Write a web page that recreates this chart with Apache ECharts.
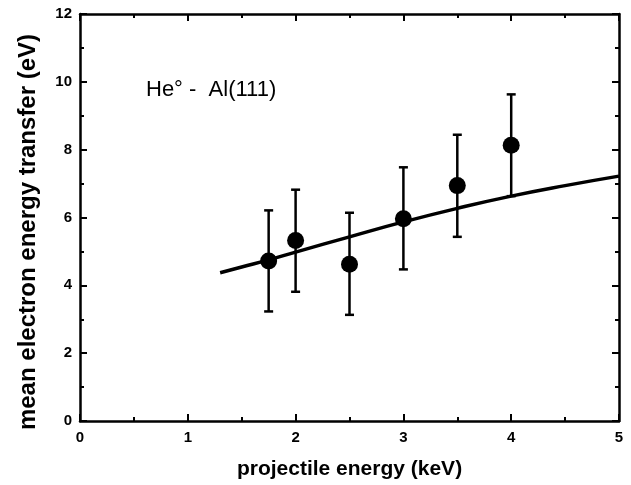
<!DOCTYPE html>
<html>
<head>
<meta charset="utf-8">
<script src="https://cdn.jsdelivr.net/npm/echarts@6/dist/echarts.min.js"></script>
<style>
html,body{margin:0;padding:0;background:#fff;}
#c{width:631px;height:485px;}
</style>
</head>
<body>
<div id="c"></div>
<script>
// Measured data points
var energy = [1.75, 2.0, 2.5, 3.0, 3.5, 4.0];
var transfer = [4.72, 5.32, 4.62, 5.96, 6.94, 8.13];
var errLow = [3.23, 3.81, 3.13, 4.47, 5.43, 6.63];
var errHigh = [6.21, 6.82, 6.14, 7.48, 8.44, 9.63];

// Theory curve
var curveX = [1.3, 1.5, 1.75, 2.0, 2.5, 3.0, 3.5, 4.0, 4.5, 5.0];
var curveY = [4.37, 4.54, 4.75, 4.98, 5.43, 5.87, 6.27, 6.63, 6.94, 7.22];

var xTicks = [0, 1, 2, 3, 4, 5];
var yTicks = [0, 2, 4, 6, 8, 10, 12];

var xTitle = 'projectile energy (keV)';
var yTitle = 'mean electron energy transfer (eV)';
var annotation = 'He\u00b0 -  Al(111)';

var FONT = '"Liberation Sans", Arial, Helvetica, sans-serif';

var points = energy.map(function (x, i) { return [x, transfer[i]]; });
var errs = energy.map(function (x, i) { return [x, errLow[i], errHigh[i]]; });
var curve = curveX.map(function (x, i) { return [x, curveY[i]]; });

var tickStyle = { color: '#000', width: 2 };
function mkX(pos, show) {
  return {
    type: 'value', position: pos, min: xTicks[0], max: xTicks[xTicks.length - 1], interval: 1,
    axisLine: { show: true, onZero: false, lineStyle: { color: '#000', width: 2.5 } },
    axisTick: { show: true, inside: true, length: 7, lineStyle: tickStyle },
    minorTick: { show: true, splitNumber: 2, length: 4, lineStyle: tickStyle },
    splitLine: { show: false },
    axisLabel: { show: show, color: '#000', fontFamily: FONT, fontWeight: 'bold', fontSize: 15, margin: 9 },
    name: show ? xTitle : '',
    nameLocation: 'middle', nameGap: 38,
    nameTextStyle: { color: '#000', fontFamily: FONT, fontWeight: 'bold', fontSize: 21 }
  };
}
function mkY(pos, show) {
  return {
    type: 'value', position: pos, min: yTicks[0], max: yTicks[yTicks.length - 1], interval: 2,
    axisLine: { show: true, onZero: false, lineStyle: { color: '#000', width: 2.5 } },
    axisTick: { show: true, inside: true, length: 7, lineStyle: tickStyle },
    minorTick: { show: true, splitNumber: 2, length: 4, lineStyle: tickStyle },
    splitLine: { show: false },
    axisLabel: { show: show, color: '#000', fontFamily: FONT, fontWeight: 'bold', fontSize: 15, margin: 8 }
  };
}

var chart = echarts.init(document.getElementById('c'), null, { renderer: 'canvas' });
chart.setOption({
  animation: false,
  backgroundColor: '#fff',
  grid: { left: 80, right: 12, top: 14, bottom: 63 },
  xAxis: [mkX('bottom', true), mkX('top', false)],
  yAxis: [mkY('left', true), mkY('right', false)],
  graphic: [
    {
      type: 'text', left: 146, top: 79,
      style: { text: annotation, fill: '#000', font: '22px ' + FONT }
    },
    {
      type: 'text', x: 28, y: 232, rotation: Math.PI / 2,
      style: { text: yTitle, fill: '#000', font: 'bold 24px ' + FONT, textAlign: 'center', textVerticalAlign: 'middle' }
    }
  ],
  series: [
    {
      type: 'custom', name: 'error', xAxisIndex: 0, yAxisIndex: 0, z: 2,
      data: errs,
      renderItem: function (params, api) {
        var x = api.value(0);
        var lo = api.coord([x, api.value(1)]);
        var hi = api.coord([x, api.value(2)]);
        var hw = 4.5;
        var st = { stroke: '#000', lineWidth: 2.5 };
        return {
          type: 'group',
          children: [
            { type: 'line', shape: { x1: lo[0], y1: lo[1], x2: hi[0], y2: hi[1] }, style: st },
            { type: 'line', shape: { x1: lo[0] - hw, y1: lo[1], x2: lo[0] + hw, y2: lo[1] }, style: st },
            { type: 'line', shape: { x1: hi[0] - hw, y1: hi[1], x2: hi[0] + hw, y2: hi[1] }, style: st }
          ]
        };
      }
    },
    {
      type: 'line', name: 'theory', data: curve, smooth: true, showSymbol: false, z: 3,
      lineStyle: { color: '#000', width: 3.5 }
    },
    {
      type: 'scatter', name: 'data', data: points, symbol: 'circle', symbolSize: 17, z: 4,
      itemStyle: { color: '#000', opacity: 1 }
    }
  ]
});
</script>
</body>
</html>
